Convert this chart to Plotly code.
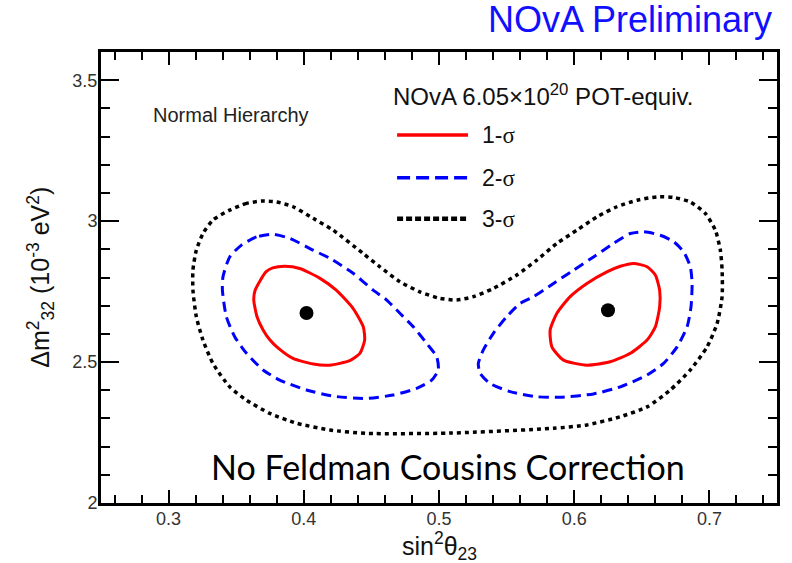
import plotly.graph_objects as go

# ---- data ----
# 1-sigma contour, lower octant
red_left_x = [0.386, 0.397, 0.412, 0.424, 0.4365, 0.444, 0.445, 0.4415, 0.434, 0.419, 0.407, 0.392,
              0.380, 0.375, 0.370, 0.3654, 0.363, 0.364, 0.372, 0.377, 0.386]
red_left_y = [2.840, 2.832, 2.797, 2.755, 2.690, 2.625, 2.578, 2.531, 2.505, 2.489, 2.493, 2.513,
              2.554, 2.578, 2.613, 2.661, 2.720, 2.755, 2.820, 2.834, 2.840]
# 1-sigma contour, upper octant
red_right_x = [0.6439, 0.6539, 0.660, 0.6632, 0.6632, 0.660, 0.6539, 0.6415, 0.6267, 0.6094, 0.5921,
               0.5835, 0.5822, 0.5872, 0.597, 0.6094, 0.6242, 0.6341, 0.6439]
red_right_y = [2.850, 2.838, 2.809, 2.755, 2.696, 2.625, 2.578, 2.531, 2.501, 2.489, 2.507,
               2.554, 2.613, 2.673, 2.732, 2.779, 2.820, 2.840, 2.850]
# 2-sigma contour, lower octant
blue_left_x = [0.3773, 0.365, 0.3539, 0.3452, 0.3402, 0.3398, 0.3427, 0.3489, 0.3576, 0.3699, 0.3822,
               0.402, 0.4217, 0.4464, 0.4661, 0.4835, 0.4946, 0.4995, 0.4983, 0.4909, 0.481, 0.4711,
               0.4613, 0.4513, 0.4365, 0.4193, 0.4069, 0.3896, 0.3773]
blue_left_y = [2.953, 2.944, 2.915, 2.873, 2.802, 2.755, 2.661, 2.590, 2.531, 2.472, 2.436,
               2.401, 2.379, 2.371, 2.383, 2.407, 2.436, 2.472, 2.519, 2.566, 2.625, 2.673,
               2.720, 2.755, 2.815, 2.868, 2.897, 2.939, 2.953]
# 2-sigma contour, upper octant
blue_right_x = [0.6513, 0.6637, 0.6736, 0.681, 0.6859, 0.6872, 0.6864, 0.6835, 0.6761, 0.6661, 0.6539,
                0.6341, 0.6143, 0.5896, 0.5724, 0.5526, 0.5378, 0.5304, 0.5291, 0.5328, 0.5402,
                0.5501, 0.560, 0.5699, 0.5847, 0.5995, 0.6143, 0.6291, 0.6415, 0.6513]
blue_right_y = [2.962, 2.950, 2.927, 2.891, 2.838, 2.779, 2.696, 2.625, 2.554, 2.495, 2.454,
                2.412, 2.387, 2.375, 2.377, 2.395, 2.424, 2.460, 2.495, 2.543, 2.602,
                2.661, 2.708, 2.732, 2.779, 2.826, 2.873, 2.921, 2.956, 2.962]
# 3-sigma contour (single closed region)
black_x = [0.3687, 0.3576, 0.3452, 0.3328, 0.3254, 0.3205, 0.318, 0.318, 0.3205, 0.3254, 0.3328,
           0.3452, 0.3576, 0.3748, 0.3946, 0.4193, 0.4464, 0.5081, 0.5847, 0.6094, 0.6341,
           0.6539, 0.6711, 0.6859, 0.6983, 0.7057, 0.7094, 0.7094, 0.7081, 0.7044, 0.697,
           0.6859, 0.6736, 0.6613, 0.6464, 0.6316, 0.6168, 0.602, 0.5872, 0.5724, 0.5576,
           0.5402, 0.5254, 0.5131, 0.5007, 0.4859, 0.4711, 0.4563, 0.4439, 0.4217, 0.4069,
           0.3921, 0.3798, 0.3687]
black_y = [3.071, 3.063, 3.039, 3.004, 2.956, 2.897, 2.826, 2.755, 2.661, 2.578, 2.495,
           2.412, 2.365, 2.318, 2.283, 2.259, 2.247, 2.248, 2.265, 2.277, 2.306,
           2.341, 2.401, 2.472, 2.554, 2.637, 2.732, 2.826, 2.897, 2.968, 3.027,
           3.068, 3.084, 3.086, 3.074, 3.051, 3.015, 2.968, 2.921, 2.862, 2.809,
           2.761, 2.732, 2.720, 2.726, 2.749, 2.785, 2.838, 2.885, 2.968, 3.010,
           3.051, 3.068, 3.071]
# best-fit points
best_x = [0.402, 0.625]
best_y = [2.674, 2.684]

x_tickvals = [0.3, 0.4, 0.5, 0.6, 0.7]
y_tickvals = [2, 2.5, 3, 3.5]
y_ticktext = ["2", "2.5", "3", "3.5"]

legend_labels = ["1-", "2-", "3-"]

SANS = "Liberation Sans, Arial, sans-serif"
RED, BLUE, BLACK = "#ff0000", "#0000ff", "#000000"

fig = go.Figure()
line_common = dict(shape="spline", smoothing=0.6)
fig.add_trace(go.Scatter(x=black_x, y=black_y, mode="lines",
                         line=dict(color=BLACK, width=3.5, dash="4px,4px", **line_common), hoverinfo="skip"))
fig.add_trace(go.Scatter(x=blue_left_x, y=blue_left_y, mode="lines",
                         line=dict(color=BLUE, width=3, dash="10px,6px", **line_common), hoverinfo="skip"))
fig.add_trace(go.Scatter(x=blue_right_x, y=blue_right_y, mode="lines",
                         line=dict(color=BLUE, width=3, dash="10px,6px", **line_common), hoverinfo="skip"))
fig.add_trace(go.Scatter(x=red_left_x, y=red_left_y, mode="lines",
                         line=dict(color=RED, width=3, **line_common), hoverinfo="skip"))
fig.add_trace(go.Scatter(x=red_right_x, y=red_right_y, mode="lines",
                         line=dict(color=RED, width=3, **line_common), hoverinfo="skip"))
fig.add_trace(go.Scatter(x=best_x, y=best_y, mode="markers",
                         marker=dict(color=BLACK, size=14), hoverinfo="skip"))

# legend samples (paper coordinates)
leg_y = [0.816, 0.721, 0.630]
leg_styles = [dict(color=RED, width=3.5, dash="solid"),
              dict(color=BLUE, width=3.5, dash="13px,6px"),
              dict(color=BLACK, width=4.5, dash="6px,3px")]
for yy, st, lab in zip(leg_y, leg_styles, legend_labels):
    fig.add_shape(type="line", xref="paper", yref="paper", x0=0.438, x1=0.543, y0=yy, y1=yy, line=st)
    fig.add_annotation(xref="paper", yref="paper", x=0.56, y=yy, xanchor="left", yanchor="middle",
                       showarrow=False,
                       text=lab + "<span style='font-family:Liberation Serif, Times New Roman, serif'>σ</span>",
                       font=dict(family=SANS, size=23, color="#111"))

fig.add_annotation(xref="paper", yref="paper", x=0.429, y=0.905, xanchor="left", yanchor="middle",
                   showarrow=False, text="NOvA 6.05×10<sup>20</sup> POT-equiv.",
                   font=dict(family=SANS, size=24, color="#111"))
fig.add_annotation(xref="paper", yref="paper", x=0.192, y=0.860, xanchor="center", yanchor="middle",
                   showarrow=False, text="Normal Hierarchy",
                   font=dict(family=SANS, size=20, color="#222"))
fig.add_annotation(xref="paper", yref="paper", x=0.996, y=1.071, xanchor="right", yanchor="middle",
                   showarrow=False, text="NOvA Preliminary",
                   font=dict(family=SANS, size=36, color="#1010ff"))
fig.add_annotation(xref="paper", yref="paper", x=0.5126, y=0.082, xanchor="center", yanchor="middle",
                   showarrow=False, text="No Feldman Cousins Correction",
                   font=dict(family="Lato, Open Sans, sans-serif", size=34, color="#000"))
# axis titles
fig.add_annotation(xref="paper", yref="paper", x=0.5, y=-0.095, xanchor="center", yanchor="middle",
                   showarrow=False, text="sin<sup>2</sup>θ<sub>23</sub>",
                   font=dict(family=SANS, size=25, color="#111"))
fig.add_annotation(xref="paper", yref="paper", x=-0.090, y=0.5, xanchor="center", yanchor="middle",
                   showarrow=False, textangle=-90,
                   text="Δm<sup>2</sup><sub>32</sub> (10<sup>-3</sup> eV<sup>2</sup>)",
                   font=dict(family=SANS, size=25, color="#111"))

fig.update_layout(
    width=792, height=563,
    margin=dict(l=101, r=15, t=52, b=60),
    paper_bgcolor="white", plot_bgcolor="white",
    showlegend=False,
    font=dict(family=SANS, color="#333"),
)
fig.update_xaxes(range=[0.25, 0.75], tickvals=x_tickvals, ticks="inside", ticklen=13, tickwidth=1.5,
                 tickcolor="black", showline=True, linecolor="black", linewidth=3, mirror="allticks",
                 showgrid=False, zeroline=False, tickfont=dict(family=SANS, size=18, color="#333"),
                 ticklabelstandoff=-3,
                 minor=dict(ticks="inside", dtick=0.02, ticklen=8, tickwidth=1.5, tickcolor="black",
                            showgrid=False))
fig.update_yaxes(range=[2, 3.6], tickvals=y_tickvals, ticktext=y_ticktext, ticks="inside", ticklen=18,
                 tickwidth=1.5, tickcolor="black", showline=True, linecolor="black", linewidth=3,
                 mirror="allticks", showgrid=False, zeroline=False,
                 tickfont=dict(family=SANS, size=18, color="#333"),
                 ticklabelstandoff=-3,
                 minor=dict(ticks="inside", dtick=0.1, ticklen=9, tickwidth=1.5, tickcolor="black",
                            showgrid=False))

fig.write_html("out.html")
